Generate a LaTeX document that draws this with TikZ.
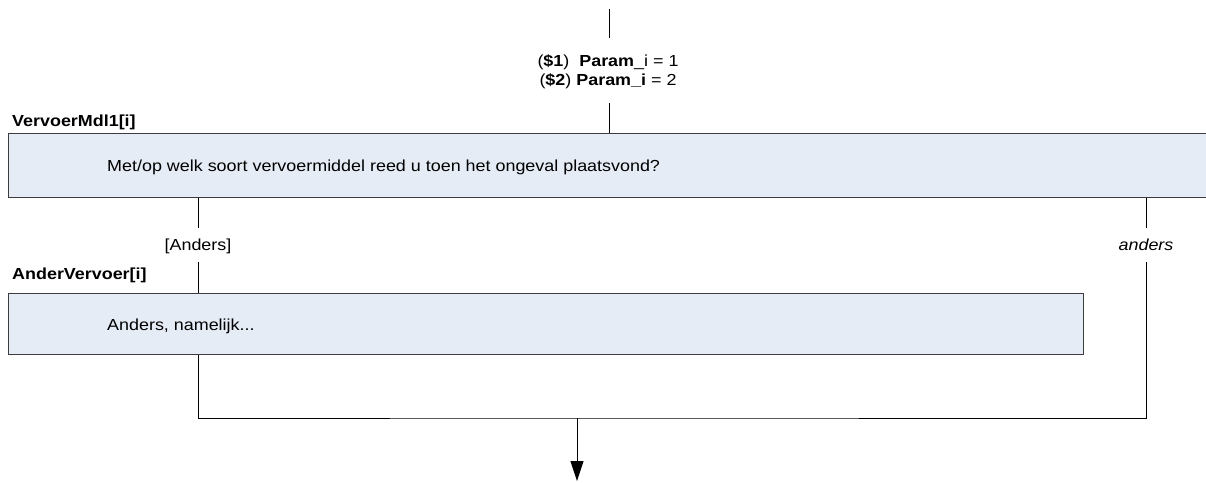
\documentclass[tikz,border=0pt]{standalone}
\usepackage{fontspec}
\setmainfont{Liberation Sans}[FakeStretch=1.12]
\usetikzlibrary{arrows.meta}
\definecolor{boxfill}{RGB}{230,236,246}
\definecolor{boxline}{RGB}{60,60,60}
\begin{document}
\begin{tikzpicture}[x=1pt,y=-1pt,
  qbox/.style={draw=boxline, fill=boxfill, line width=1pt, inner sep=0pt, anchor=north west},
  txt/.style={inner sep=0pt, font=\fontsize{16}{19}\selectfont},
  conn/.style={draw=black, line width=1pt}]
\useasboundingbox (0,0) rectangle (1206,482);
% boxes
\node[qbox, minimum width=1210pt, minimum height=64pt] (q1) at (8,133) {};
\node[qbox, minimum width=1075pt, minimum height=61pt] (q2) at (8,293) {};
% texts
\node[txt, anchor=base west] (q1text) at (107,171) {Met/op welk soort vervoermiddel reed u toen het ongeval plaatsvond?};
\node[txt, anchor=base west] (q2text) at (107,330) {Anders, namelijk...};
\node[txt, anchor=base west] (q1name) at (12,126) {\textbf{VervoerMdl1[i]}};
\node[txt, anchor=base west] (q2name) at (12,279) {\textbf{AnderVervoer[i]}};
\node[txt, anchor=base] (p1) at (608,66.5) {(\textbf{\$1})\ \ \textbf{Param}\_i = 1};
\node[txt, anchor=base] (p2) at (608,85) {(\textbf{\$2}) \textbf{Param\_i} = 2};
\node[txt, anchor=base] (lab1) at (198,250.5) {[Anders]};
\node[txt, anchor=base] (lab2) at (1146,250) {\itshape anders};
% coordinates
\coordinate (s0) at (609,9);
\coordinate (s1) at (609,38);
\coordinate (s2) at (609,103);
\coordinate (a1) at (198,228);
\coordinate (a2) at (198,262);
\coordinate (b1) at (1146,228);
\coordinate (b2) at (1146,262);
\coordinate (j) at (577,418);
\coordinate (end) at (577,481);
% connectors
\draw[conn] (s0) -- (s1);
\draw[conn] (s2) -- (q1.north -| s2);
\draw[conn] (q1.south -| a1) -- (a1);
\draw[conn] (a2) -- (q2.north -| a2);
\draw[conn] (q1.south -| b1) -- (b1);
\draw[conn] (q2.south -| a2) |- (j) -| (b2);
\draw[conn, -{Triangle[width=13pt,length=20pt]}] (j) -- (end);
\end{tikzpicture}
\end{document}
